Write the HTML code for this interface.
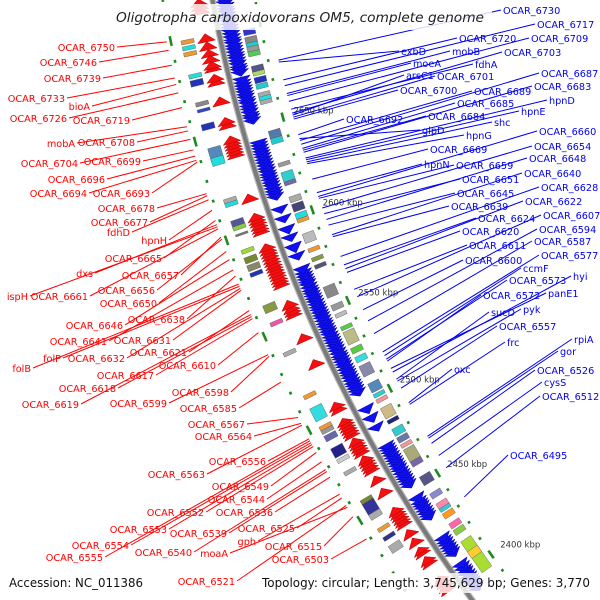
<!DOCTYPE html>
<html><head><meta charset="utf-8"><style>
html,body{margin:0;padding:0;background:#fff;width:600px;height:600px;overflow:hidden;}
svg{display:block;font-family:"DejaVu Sans","Liberation Sans",sans-serif;}
</style></head><body>
<svg id="map" width="600" height="600" viewBox="0 0 600 600" xmlns="http://www.w3.org/2000/svg">
<g id="backbone-layer"></g>
<g id="feat-layer"></g>
<g id="tick-layer"></g>
<g id="label-layer"></g>
<rect x="108" y="4" width="384" height="26" fill="#fff" opacity="0.82"/>
<text x="300" y="22" text-anchor="middle" font-size="13.2" font-style="italic" fill="#222" textLength="368" lengthAdjust="spacingAndGlyphs">Oligotropha carboxidovorans OM5, complete genome</text>
<rect x="256" y="573" width="340" height="20" fill="#fff" opacity="0.8"/>
<text x="9" y="587" font-size="12" fill="#111" textLength="134" lengthAdjust="spacingAndGlyphs">Accession: NC_011386</text>
<text x="262" y="587" font-size="12" fill="#111" textLength="328" lengthAdjust="spacingAndGlyphs">Topology: circular; Length: 3,745,629 bp; Genes: 3,770</text>
</svg>
<script>
// ---------- data ----------
const tickKbp = [2650, 2600, 2550, 2500, 2450, 2400];
const tickLabels = ["2650 kbp", "2600 kbp", "2550 kbp", "2500 kbp", "2450 kbp", "2400 kbp"];
const blueClusters = [
 [2677,2678.5,2680,2681.2,2683,2684.5,2686,2687.3,2689,2690.6,2692,2693.8,2695,2696.7,2698.4,2700,2701.5,2703.2,2705,2706.4,2708,2709.7,2711,2712.8,2714.5,2716,2718],
 [2652,2653.4,2655,2656.2,2658,2659.5,2661,2662.8,2664,2665.7,2667,2668.6,2670,2671.5,2673,2675],
 [2612,2613.5,2615,2616.4,2618,2619.6,2621,2622.5,2624,2625.3,2627,2628.4,2630,2631.5,2633,2634.6,2636,2637.4,2639,2640.5,2642],
 [2605,2607],[2600,2602],[2594,2596.5],[2590,2592],[2584,2587],[2580,2582],
 [2505,2506.4,2508,2509.5,2511,2512.3,2514,2515.6,2517,2518.4,2520,2521.7,2523,2524.5,2526,2527.2,2529,2530.6,2532,2533.5,2535,2536.4,2538,2539.7,2541,2542.5,2544,2545.3,2547,2548.6,2550,2551.5,2553,2554.4,2556,2557.6,2559,2560.5,2562,2563.3,2565,2566.8,2568,2569.5,2571,2572.6,2575],
 [2495,2497.5],[2490,2492.5],[2485,2487],
 [2452,2453.5,2455,2456.6,2458,2459.4,2461,2462.7,2464,2465.5,2467,2468.4,2470,2471.6,2473,2474.5,2476],
 [2433,2434.6,2436,2437.5,2439,2440.7,2442,2443.5,2446],
 [2411,2412.6,2414,2415.5,2417,2418.7,2420,2422],
 [2390,2391.7,2393,2394.6,2396,2397.5,2399,2400.8,2402,2404,2406]
];
const redClusters = [
 [2710,2712,2714,2716],
 [2696,2698.5],[2692,2694.5],[2688.5,2690.5],[2685.5,2687.5],[2681,2682.5,2684.5],[2674,2676,2678],
 [2664,2666.5],[2652,2654,2656],
 [2637,2638.5,2640,2641.5,2643,2644.5,2646.5],
 [2614,2616.5],
 [2597,2598.5,2600,2601.7,2603,2604.5,2606.5],
 [2569,2570.5,2572,2573.6,2575,2576.5,2578,2579.4,2581,2582.5,2584,2585.5,2587,2588.6,2590.5],
 [2553,2554.5,2556,2558,2560.5],[2540,2542.5],[2526,2528.5],
 [2501,2503,2505],[2487,2488.5,2490,2491.5,2493,2494.5,2496],[2477,2478.6,2480,2481.5,2483,2485],
 [2467,2468.5,2470,2471.6,2473,2475],[2461,2463.5],[2454,2456.5],
 [2436,2437.5,2439,2440.6,2442,2443.5,2445.5],[2430,2432.5],[2425,2427.5],[2419,2420.5,2422],[2413,2414.5,2416.5],
 [2397,2399,2401,2403,2405]
];
const blueBoxStart = [2695,2691,2689,2686.5,2684,2676,2674,2670,2667,2659,2661,2641,2638,2626,2618,2616,2607,2602,2598,2596,2585,2580,2575,2571,2555,2548,2544,2537,2529,2524,2519,2511,2502,2499,2496,2487,2484,2477,2473,2470,2462,2459,2448,2440,2434,2432,2428,2422,2418,2395,2404];
const blueBoxEnd   = [2698,2694,2691,2689,2686.5,2679,2676,2673,2669.5,2665,2663,2645,2641,2628,2623,2618,2610,2606,2601,2598,2590,2582,2577,2573,2561,2551,2546,2539,2536,2527,2522,2517,2507,2501,2498,2493,2486,2481,2476,2472,2469,2462,2453,2443,2437,2434,2431,2425,2421,2414,2408];
const blueBoxColor = ['#3333cc','#888','#22cccc','#999','#55cc55','#555588','#aadd66','#2233bb','#22cccc','#aaa','#22dddd','#5577aa','#22cccc','#999','#33cccc','#7766aa','#aaa','#444477','#22dddd','#ee9933','#bbb','#ee9933','#889944','#555577','#888','#999','#bbb','#55cc44','#bbbb88','#55cc44','#33dddd','#8888aa','#5588bb','#33cccc','#ee9999','#ccbb88','#222277','#33cccc','#6677aa','#ee9999','#aaaa77','#7766aa','#555588','#8888cc','#ff88aa','#33cccc','#ff9922','#ff66aa','#88cc44','#aadd33','#ffcc33'];
const redBoxStart = [2697,2694,2691,2680,2676,2666,2663,2654,2638,2636,2617,2615,2604,2603,2600,2591,2586,2582,2579,2560,2553,2537,2514,2502,2497,2495,2491,2482,2479,2472,2456,2450,2447,2440,2435,2428];
const redBoxEnd   = [2699,2696,2693,2682,2679,2668,2664.5,2657,2645,2640,2619,2617,2608,2605,2601,2593,2589,2585,2581,2564,2555,2539,2516,2509,2499,2497,2494,2487,2481,2474,2458,2456,2450,2442,2437,2432];
const redBoxColor = ['#ee9933','#22dddd','#ee9933','#22dddd','#2233bb','#888','#3344cc','#2233bb','#5588bb','#22dddd','#aaa','#22dddd','#555599','#88cc44','#777','#99dd33','#778833','#888866','#2233bb','#889944','#ee55aa','#aaa','#ee9933','#33dddd','#ee9933','#999','#6666aa','#222288','#ccc','#aaa','#778833','#333399','#aaa','#ee9933','#333388','#aaa'];
const redNames = ["OCAR_6750","OCAR_6746","OCAR_6739","OCAR_6733","bioA","OCAR_6726","OCAR_6719","mobA","OCAR_6708","OCAR_6704","OCAR_6699","OCAR_6696","OCAR_6694","OCAR_6693","OCAR_6678","OCAR_6677","fdhD","hpnH","OCAR_6665","dxs","OCAR_6657","ispH","OCAR_6661","OCAR_6656","OCAR_6650","OCAR_6646","OCAR_6638","OCAR_6641","OCAR_6631","folP","OCAR_6632","OCAR_6621","folB","OCAR_6617","OCAR_6610","OCAR_6618","OCAR_6598","OCAR_6619","OCAR_6599","OCAR_6585","OCAR_6567","OCAR_6564","OCAR_6556","OCAR_6563","OCAR_6549","OCAR_6544","OCAR_6552","OCAR_6536","OCAR_6553","OCAR_6539","OCAR_6525","OCAR_6554","gph","OCAR_6540","moaA","OCAR_6515","OCAR_6555","OCAR_6503","OCAR_6521"];
const redKbp = [2700.0,2695.8,2688.5,2682.2,2679.0,2674.8,2667.5,2658.0,2655.9,2651.7,2646.4,2643.3,2641.2,2640.2,2624.4,2623.4,2621.3,2616.0,2610.8,2608.7,2602.4,2607.6,2606.6,2601.3,2595.0,2590.8,2582.4,2585.5,2575.0,2577.1,2576.0,2564.5,2578.2,2560.3,2553.0,2561.4,2540.4,2562.4,2541.4,2526.8,2507.9,2504.7,2496.3,2503.7,2488.9,2483.7,2492.1,2475.3,2493.2,2478.4,2463.8,2494.2,2465.9,2479.5,2458.5,2453.3,2495.3,2440.7,2459.6];
const blueNames = ["OCAR_6730","OCAR_6717","OCAR_6720","OCAR_6709","exbD","mobB","OCAR_6703","moeA","fdhA","arsC1","OCAR_6701","OCAR_6687","OCAR_6700","OCAR_6689","OCAR_6683","OCAR_6685","hpnD","OCAR_6692","OCAR_6684","hpnE","shc","glpD","hpnG","OCAR_6660","OCAR_6669","OCAR_6654","OCAR_6648","hpnN","OCAR_6659","OCAR_6640","OCAR_6651","OCAR_6628","OCAR_6645","OCAR_6622","OCAR_6639","OCAR_6607","OCAR_6624","OCAR_6594","OCAR_6620","OCAR_6587","OCAR_6611","OCAR_6577","OCAR_6600","ccmF","hyi","OCAR_6573","panE1","OCAR_6572","sucD","pyk","OCAR_6557","rpiA","frc","gor","OCAR_6526","oxc","cysS","OCAR_6512","OCAR_6495"];
const blueKbp = [2679.0,2665.4,2668.5,2657.0,2678.0,2661.2,2650.7,2660.1,2652.8,2649.6,2648.5,2633.9,2647.5,2636.0,2629.6,2631.7,2626.5,2639.1,2630.7,2625.5,2624.4,2637.0,2623.4,2605.5,2615.0,2599.2,2592.9,2607.6,2604.5,2584.5,2596.1,2572.4,2589.8,2565.6,2583.4,2549.9,2567.7,2536.2,2563.5,2528.9,2554.0,2518.4,2542.5,2516.3,2506.8,2514.2,2508.9,2513.1,2502.6,2501.5,2497.4,2469.0,2487.9,2467.9,2464.8,2488.9,2457.5,2450.1,2432.3];
// ---------- layout (not data) ----------
const redLX = [115,97,101,65,90,67,130,75,135,78,141,105,87,150,155,148,130,167,162,93,179,28,88,155,157,123,185,107,171,61,125,187,31,154,216,116,229,79,167,237,245,252,266,205,269,265,204,273,167,227,295,129,256,192,228,322,103,329,235];
const redLY = [51,66,82,102,110,122,124,147,146,167,165,183,197,197,212,226,236,244,262,277,279,300,300,294,307,329,323,345,344,362,362,356,372,379,369,392,396,408,407,412,428,440,465,478,490,503,516,516,533,537,532,549,545,556,557,550,561,563,585];
const blueLX = [503,537,459,531,401,452,504,413,475,406,437,541,400,474,534,457,549,346,428,521,494,422,466,539,430,534,529,424,456,524,462,541,457,525,451,543,478,539,462,534,469,541,465,523,573,509,548,483,491,523,499,574,507,560,537,454,544,542,510];
const blueLY = [14,28,42,42,55,55,56,67,68,79,80,77,94,95,90,107,104,123,120,115,126,134,139,135,153,150,162,168,169,177,183,191,197,205,210,219,222,233,235,245,249,259,264,272,280,284,297,299,316,313,330,343,346,355,374,373,386,400,459];

// ---------- geometry ----------
const CX = 1653, CY = -267, RB = 1465;
function ang(k){ return (164.34 - (2650 - k) * 0.0784) * Math.PI / 180; }
function pt(r, k){ const a = ang(k); return [CX + r * Math.cos(a), CY + r * Math.sin(a)]; }
function f(p){ return p[0].toFixed(1) + ',' + p[1].toFixed(1); }
const NS = 'http://www.w3.org/2000/svg';
function mk(tag, parent){ const e = document.createElementNS(NS, tag); parent.appendChild(e); return e; }

const bb = document.getElementById('backbone-layer');
const fl = document.getElementById('feat-layer');
const tl = document.getElementById('tick-layer');
const ll = document.getElementById('label-layer');

[[6.5,'#b8b8b8'],[4,'#7a7a7a']].forEach(function(s){
  const p = mk('path', bb);
  
  
  p.setAttribute('d', 'M' + f(pt(RB, 2730)) + ' A' + RB + ' ' + RB + ' 0 0 0 ' + f(pt(RB, 2375)));
  p.setAttribute('fill', 'none');
  p.setAttribute('stroke', s[1]);
  p.setAttribute('stroke-width', s[0]);
});

function arrow(lo, hi, r1, r2, fwd, fill, stroke){
  const rm = (r1 + r2) / 2;
  let pts;
  if (fwd) pts = [pt(r1, lo), pt(r2, lo), pt(rm, hi + 1.6)];
  else pts = [pt(r1, hi), pt(r2, hi), pt(rm, lo - 1.6)];
  const p = mk('polygon', fl);
  
  
  p.setAttribute('points', pts.map(f).join(' '));
  p.setAttribute('fill', fill);
  p.setAttribute('stroke', stroke);
  p.setAttribute('stroke-width', '0.5');
}
blueClusters.forEach(function(c){
  for (let i = 0; i < c.length - 1; i++) arrow(c[i], c[i+1], 1444, 1462, false, '#1010f0', '#0000a0');
});
redClusters.forEach(function(c){
  for (let i = 0; i < c.length - 1; i++) arrow(c[i], c[i+1], 1470, 1488, true, '#f41010', '#b00000');
});

function box(lo, hi, r1, r2, col, nm){
  const p = mk('polygon', fl);
  
  
  p.setAttribute('points', [pt(r1, lo), pt(r2, lo), pt(r2, hi), pt(r1, hi)].map(f).join(' '));
  p.setAttribute('fill', col);
  p.setAttribute('stroke', '#555');
  p.setAttribute('stroke-width', '0.4');
}
blueBoxStart.forEach(function(s, i){ box(s, blueBoxEnd[i], 1429, 1441, blueBoxColor[i], 'inner-feature-box'); });
redBoxStart.forEach(function(s, i){ box(s, redBoxEnd[i], 1491, 1504, redBoxColor[i], 'outer-feature-box'); });

for (let k = 2380; k <= 2720; k += 10) {
  const major = (k % 50 === 0);
  [1423, 1514].forEach(function(r){
    const h = major ? 2.4 : 0.7;
    const l = mk('line', tl);
    
    
    const a = pt(r, k - h), b = pt(r, k + h);
    l.setAttribute('x1', a[0]); l.setAttribute('y1', a[1]);
    l.setAttribute('x2', b[0]); l.setAttribute('y2', b[1]);
    l.setAttribute('stroke', '#1e8a1e');
    l.setAttribute('stroke-width', '2.6');
  });
}
tickKbp.forEach(function(k, i){
  const p = pt(1413, k);
  const t = mk('text', tl);
  
  
  t.setAttribute('x', p[0] + 1);
  t.setAttribute('y', p[1] - 1);
  t.setAttribute('font-size', '8.5');
  t.setAttribute('fill', '#333');
  t.textContent = tickLabels[i];
});

redNames.forEach(function(n, i){
  const e = pt(1518, redKbp[i]);
  const l = mk('line', ll);
  
  
  l.setAttribute('x1', redLX[i] + 2); l.setAttribute('y1', redLY[i] - 4);
  l.setAttribute('x2', e[0]); l.setAttribute('y2', e[1]);
  l.setAttribute('stroke', '#ff0000'); l.setAttribute('stroke-width', '1');
  const t = mk('text', ll);
  
  
  t.setAttribute('x', redLX[i]); t.setAttribute('y', redLY[i]);
  t.setAttribute('text-anchor', 'end');
  t.setAttribute('font-size', '9.7');
  t.setAttribute('fill', '#ff0000');
  t.textContent = n;
});
blueNames.forEach(function(n, i){
  const s = pt(1413, blueKbp[i]);
  const l = mk('line', ll);
  
  
  l.setAttribute('x1', s[0]); l.setAttribute('y1', s[1]);
  l.setAttribute('x2', blueLX[i] - 2); l.setAttribute('y2', blueLY[i] - 4);
  l.setAttribute('stroke', '#0000ee'); l.setAttribute('stroke-width', '1');
  const t = mk('text', ll);
  
  
  t.setAttribute('x', blueLX[i]); t.setAttribute('y', blueLY[i]);
  t.setAttribute('font-size', '9.7');
  t.setAttribute('fill', '#0000ee');
  t.textContent = n;
});
</script>
</body></html>
